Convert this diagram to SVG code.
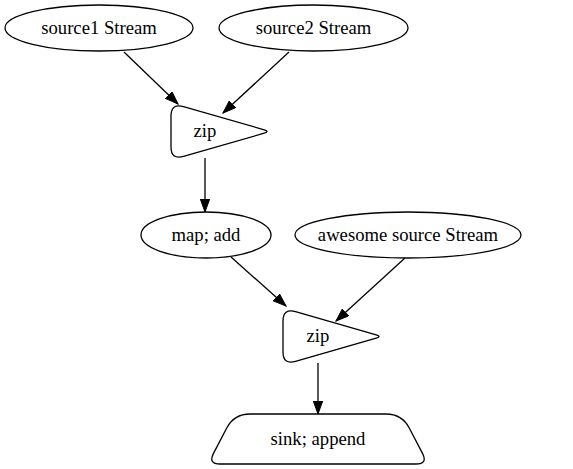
<svg xmlns="http://www.w3.org/2000/svg" width="573" height="469" viewBox="0 0 573 469">
<style>
.n{fill:none;stroke:#000;stroke-width:1.3}
.t{font-family:'Liberation Serif','Times New Roman',Times,serif;font-size:18.67px;text-anchor:middle;fill:#000}
.e{stroke:#000;stroke-width:1.3;fill:none;marker-end:url(#ah)}
</style>
<defs>
<marker id="ah" markerUnits="userSpaceOnUse" markerWidth="14" markerHeight="10" refX="13" refY="5" orient="auto">
<path d="M0,0.3 L13,5 L0,9.7 Z" fill="#000" stroke="#000" stroke-width="1"/>
</marker>
</defs>
<rect width="573" height="469" fill="#fff"/>
<g id="connectors">
<path class="e" d="M124,52 L178,104"/>
<path class="e" d="M289,52 L223,113"/>
<path class="e" d="M205,158 L205,212"/>
<path class="e" d="M231,257 L286,306"/>
<path class="e" d="M405,258 L336,321"/>
<path class="e" d="M318,363 L318,414"/>
</g>
<g id="source1">
<ellipse class="n" cx="99" cy="28" rx="94" ry="23"/>
<text class="t" x="99" y="34" font-family="Liberation Serif, serif">source1 Stream</text>
</g>
<g id="source2">
<ellipse class="n" cx="313.5" cy="28" rx="94.5" ry="23"/>
<text class="t" x="313.5" y="34" font-family="Liberation Serif, serif">source2 Stream</text>
</g>
<g id="zip1">
<path class="n" d="M171,116 Q171,103 183.5,106.6 L264.2,129.8 Q270,131.5 264.2,133.2 L183.5,156.4 Q171,160 171,147 Z"/>
<text class="t" x="205" y="137" font-family="Liberation Serif, serif">zip</text>
</g>
<g id="map">
<ellipse class="n" cx="206" cy="235" rx="65" ry="23"/>
<text class="t" x="206" y="241" font-family="Liberation Serif, serif">map; add</text>
</g>
<g id="awesome">
<ellipse class="n" cx="408" cy="235" rx="113" ry="23"/>
<text class="t" x="408" y="241" font-family="Liberation Serif, serif">awesome source Stream</text>
</g>
<g id="zip2">
<path class="n" d="M283,321 Q283,308 295.5,311.6 L376.2,334.8 Q382,336.5 376.2,338.2 L295.5,361.4 Q283,365 283,352 Z"/>
<text class="t" x="318" y="342" font-family="Liberation Serif, serif">zip</text>
</g>
<g id="sink">
<path class="n" d="M250,414 L386,414 Q402,414 409.4,428.2 L422.5,453.4 Q428,464 416,464 L220,464 Q208,464 213.5,453.4 L226.6,428.2 Q234,414 250,414 Z"/>
<text class="t" x="318" y="445" font-family="Liberation Serif, serif">sink; append</text>
</g>
</svg>
